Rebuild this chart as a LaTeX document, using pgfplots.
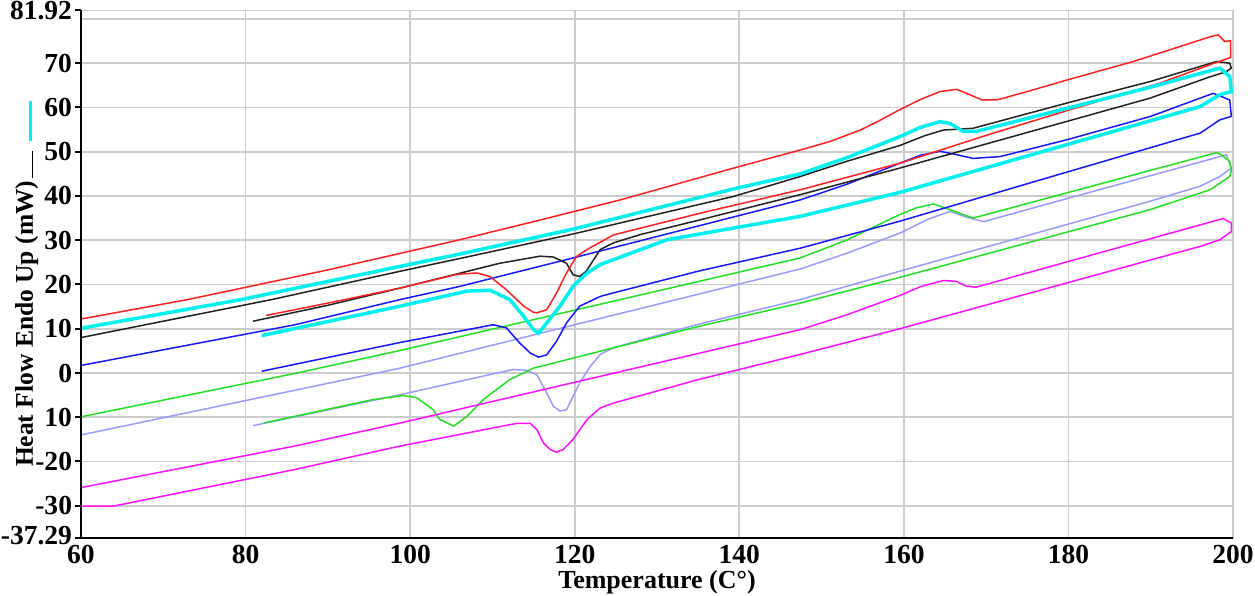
\documentclass[border=0pt]{standalone}
\usepackage{fontspec}
\setmainfont{Liberation Serif}
\usepackage{pgfplots}
\pgfplotsset{compat=1.18}
\definecolor{cred}{HTML}{FF2020}
\definecolor{cblack}{HTML}{222222}
\definecolor{ccyan}{HTML}{00F0F0}
\definecolor{cblue}{HTML}{1818FF}
\definecolor{cgreen}{HTML}{22E022}
\definecolor{clav}{HTML}{9A9AFF}
\definecolor{cmag}{HTML}{FF10FF}
\begin{document}
\begin{tikzpicture}
\useasboundingbox (-32.4pt,-22.8pt) rectangle (469.6pt,215.2pt);
\begin{axis}[
  at={(0,0)}, anchor=south west,
  scale only axis, width=460.8pt, height=211pt,
  xmin=60, xmax=200, ymin=-37.29, ymax=81.92,
  clip=false,
  xtick={60,80,...,200},
  ytick={-37.29,-30,-20,-10,0,10,20,30,40,50,60,70,81.92},
  yticklabels={\raisebox{2.4pt}{-37.29},-30,-20,10,0,10,20,30,40,50,60,70,\raisebox{-2pt}{81.92}},
  extra y ticks={80}, extra y tick labels={},
  extra y tick style={grid=major, major tick length=0pt},
  grid=major, major grid style={draw=gray!40, line width=0.7pt},
  axis line style={draw=gray!40, line width=0.7pt},
  tick align=outside, ytick pos=left, xtick pos=bottom,
  major tick length=2.4pt,
  xtick style={draw=none}, ytick style={black, line width=0.8pt},
  /pgf/number format/assume math mode=true,
  tick label style={font=\bfseries\fontsize{11}{11}\selectfont},
  xticklabel style={yshift=3.2pt},
  yticklabel style={inner xsep=1pt},
  xlabel={Temperature (C°)},
  xlabel style={font=\bfseries\fontsize{10.4}{12}\selectfont, at={(axis description cs:0.5,-0.083)}, anchor=center},
  ylabel={Heat Flow Endo Up (mW)\hspace{1pt}\rule{11pt}{0.5pt}\hspace{4pt}\textcolor{ccyan}{\rule[0.4pt]{16pt}{1.3pt}}},
  ylabel style={font=\bfseries\fontsize{10.2}{12}\selectfont, at={(axis description cs:-0.0417,0.118)}, anchor=base west},
]
% lavender
\addplot[clav, line width=0.6pt] coordinates {
(60,-14.0) (86,-3.9) (98.8,1.1) (120,10.9) (147.4,23.5) (153,27.0) (159.5,31.6) (163,34.8) (165.6,36.5) (167.5,35.3) (169.7,34.2) (180,39.5) (199.2,49.3) (199.8,46.3) (198.4,44.4) (196.0,42.2)
(189.9,38.8) (159.5,23.0) (147.4,16.6) (135,11.0) (124.7,5.7) (123.1,4.2) (121.9,1.5) (120.6,-2.2) (119.8,-5.3) (119.0,-8.3) (118.2,-8.6) (117.4,-7.5) (116.6,-4.5) (115.4,-0.4) (114.2,0.6) (112.5,0.8) (98.8,-4.9) (80.9,-11.9)
};
% green
\addplot[cgreen, line width=0.6pt] coordinates {
(60,-9.9) (86,-0.1) (98.8,5.1) (120,14.2) (147.4,26.0) (153,30.0) (159.5,35.8) (161.5,37.3) (163.6,38.2) (165.6,36.9) (168.4,35.0) (180,40.8) (198.0,49.8) (198.6,49.3) (199.6,47.8) (199.8,45.9) (199.6,44.4) (197.2,41.4)
(189.9,36.9) (159.5,21.6) (147.4,15.8) (135,10.5) (123.9,5.3) (115.0,1.1) (112.1,-1.5) (108.9,-6.0) (106.9,-9.8) (105.3,-12.0) (103.6,-10.5) (102.8,-8.3) (100.8,-5.6) (99.2,-5.1) (95.5,-6.0) (82.2,-11.3)
};
% magenta
\addplot[cmag, line width=0.6pt] coordinates {
(60,-25.9) (86,-16.5) (98.8,-11.3) (120,-2.1) (147.4,9.8) (153,13.1) (159.5,17.5) (162,19.5) (164.8,20.9) (166.4,20.7) (167.6,19.6) (168.8,19.4) (180,25.2) (198.8,34.9) (199.8,33.9) (199.8,32.0) (198.4,30.1) (196.0,28.6)
(194.8,28.0) (159.5,10.0) (147.4,4.2) (135,-1.5) (124.7,-6.8) (123.1,-7.9) (121.5,-10.5) (119.8,-15.0) (118.6,-17.3) (117.8,-17.9) (117.0,-17.3) (116.2,-15.8) (115.4,-12.8) (114.6,-11.4) (112.9,-11.4) (98.8,-16.5) (86,-21.8) (63.9,-30.1) (60,-30.1)
};
% blue
\addplot[cblue, line width=0.6pt] coordinates {
(60,1.7) (86,10.9) (98.8,16.6) (106.1,19.6) (120,26.1) (147.4,39.1) (153,42.6) (159.5,47.4) (162,49.2) (164.4,50.1) (166,49.5) (168.4,48.5) (171.7,48.9) (180,52.8) (190,58.0) (197.6,63.2) (199.6,61.7) (199.8,58.0)
(198.4,57.2) (196.0,54.2) (180,45.5) (159.5,34.3) (147.4,28.2) (135,23.0) (124.7,18.1) (123.1,17.3) (120.6,15.1) (119.0,11.3) (117.8,7.2) (116.6,4.1) (115.6,3.6) (114.6,4.5) (113.3,6.8) (111.7,10.2) (110.1,10.9) (98.8,6.9) (81.96,0.4)
};
% black
\addplot[cblack, line width=0.6pt] coordinates {
(60,8.0) (83.2,16.6) (98.8,23.0) (106.1,25.9) (120,31.5) (139.3,39.9) (147.4,44.4) (153,47.8) (159.5,51.4) (162.5,53.6) (164.8,54.9) (168.4,55.3) (180,61.1) (190,65.9) (198.0,70.4) (199.6,70.0) (199.8,68.9) (199.2,68.1)
(197,66.8) (189.9,62.1) (159.5,46.3) (147.4,40.3) (135,34.5) (128,31.3) (124.7,29.4) (123.1,27.9) (121.4,23.0) (120.6,21.8) (119.8,22.2) (119.0,24.8) (117.4,26.2) (115.8,26.4) (110.9,24.8) (98.8,19.2) (90,15.3) (80.9,11.7)
};
% red
\addplot[cred, line width=0.6pt] coordinates {
(60,12.2) (73,16.6) (90,23.3) (106,30.1) (115,34.2) (125.5,39.1) (139.3,46.3) (147.4,50.4) (151,52.3) (154.7,54.9) (157,57.0) (159.5,59.5) (162,61.8) (164.4,63.6) (166.4,64.1) (168.0,62.9) (169.5,61.7) (171.3,61.7) (175,63.6) (179.8,66.2) (187.9,70.4) (197.6,76.2) (198.2,76.4) (199.0,74.9) (199.7,75.1) (199.7,71.3)
(198,70.2) (191.1,65.5) (180,59.4) (170,53.7) (159.5,47.4) (147.4,41.4) (135,36.0) (124.7,31.2) (121.5,27.9) (120.2,26.3) (119.0,22.6) (117.8,18.1) (116.6,14.3) (115.4,13.6) (115.0,13.7) (113.8,15.1) (111.7,18.8) (109.7,21.8) (108.1,22.6) (105.7,22.3) (98.8,19.2) (90,15.8) (82.5,13.0)
};
% cyan
\addplot[ccyan, line width=1.4pt] coordinates {
(60,10.1) (79.5,16.6) (98.8,24.1) (106.1,26.9) (120,32.6) (139.3,41.6) (147.4,45.0) (153,48.6) (159.5,53.4) (162,55.5) (164.4,56.8) (165.6,56.4) (167.2,54.6) (168.8,54.6) (180,59.9) (190,64.6) (197.6,68.5) (198.4,68.9) (199.6,67.0) (199.8,63.6)
(198.4,62.9) (196.0,60.2) (180,51.7) (159.5,40.8) (147.4,35.4) (131.2,30.1) (124.7,25.6) (123.1,24.5) (121.5,22.6) (119.8,19.6) (118.2,15.1) (116.6,11.3) (115.6,9.0) (115.0,9.8) (113.8,12.8) (112.1,16.6) (109.7,18.7) (106.9,18.5) (98.8,15.1) (81.96,8.45)
};
\draw[black, line width=0.9pt] (rel axis cs:0,1) -- (rel axis cs:0,0) -- (rel axis cs:1,0);
\end{axis}
\end{tikzpicture}
\end{document}
